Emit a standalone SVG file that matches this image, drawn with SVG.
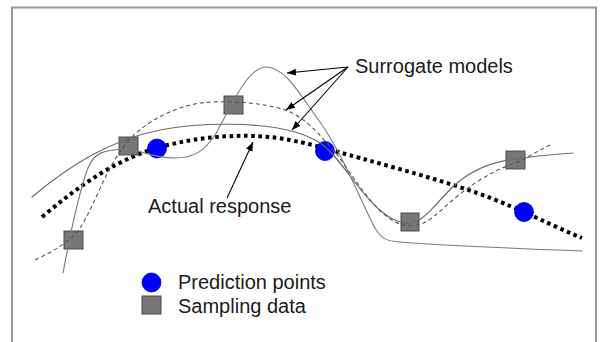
<svg xmlns="http://www.w3.org/2000/svg" width="602" height="342" viewBox="0 0 602 342">
<defs>
<style>
.lbl{font-family:"Liberation Sans",Arial,sans-serif;font-size:20px;fill:#1a1a1a}
.sq{fill:#777;stroke:#4a4a4a;stroke-width:1}
.pt{fill:#0000ff;stroke:#0000c0;stroke-width:0.8}
.cv{fill:none;stroke-linecap:round}
.dot{fill:none;stroke:#000;stroke-width:4;stroke-dasharray:3.6 3.6;stroke-linecap:butt}
.dash{fill:none;stroke:#555;stroke-width:1.1;stroke-dasharray:4 3;stroke-linecap:butt}
.ar{fill:none;stroke:#000;stroke-width:1.1}
</style>
<marker id="ah" markerWidth="10" markerHeight="8" refX="9" refY="3.5" orient="auto" markerUnits="userSpaceOnUse">
<path d="M0,0 L9,3.5 L0,7 z" fill="#000"/>
</marker>
</defs>
<rect width="602" height="342" fill="#fff"/>
<rect x="12" y="7.5" width="584" height="345" fill="none" stroke="#9a9a9a" stroke-width="2"/>

<g id="actual-response">
<path class="dot" d="M42,217 C80,185 115,160 160,147 C200,136 250,132 290,140 C320,146 330,150 360,158 C410,172 470,188 510,206 C540,219 560,229 582,238"/>
</g>

<g id="sampling-data">
<rect class="sq" x="64" y="231" width="19" height="18"/>
<rect class="sq" x="119" y="137" width="19" height="18"/>
<rect class="sq" x="224" y="96" width="19" height="18"/>
<rect class="sq" x="401" y="213" width="18" height="18"/>
<rect class="sq" x="506" y="151" width="19" height="18"/>
</g>

<g id="prediction-points">
<circle class="pt" cx="157" cy="148.5" r="9.5"/>
<circle class="pt" cx="325" cy="151" r="9.5"/>
<circle class="pt" cx="524" cy="212" r="9.5"/>
</g>

<g id="surrogate-models">
<path id="model-wide" class="cv" d="M32,197 C70,165 110,140 160,130 C200,122 260,122 295,132 C315,138 325,145 335,157 C355,180 375,215 400,222 C420,228 430,210 445,195 C465,172 490,162 515,159 C540,155 560,154 573,153" stroke="#6a6a6a" stroke-width="1.2"/>
<path id="model-peak" class="cv" d="M63,273 C70,235 78,195 88,168 C94,152 105,150 125,149 C140,149 150,158 175,158 C195,158 205,150 215,135 C230,110 245,70 265,67 C285,66 300,95 320,122 C345,158 360,200 375,228 C382,240 388,241 400,242 C450,246 530,249 582,251" stroke="#7a7a7a" stroke-width="1.1"/>
<path id="model-dashed" class="dash" d="M35,260 C55,250 70,242 80,228 C95,205 105,170 125,145 C140,125 170,108 200,103 C225,100 260,102 285,110 C305,117 320,135 335,152 C355,178 375,215 400,224 C420,230 430,220 445,207 C465,188 490,172 510,165 C525,160 535,152 550,145"/>
</g>

<g id="connectors">
<line class="ar" x1="348" y1="67" x2="287" y2="73" marker-end="url(#ah)"/>
<line class="ar" x1="348" y1="67" x2="286" y2="110" marker-end="url(#ah)"/>
<line class="ar" x1="348" y1="67" x2="292" y2="130" marker-end="url(#ah)"/>
<line class="ar" x1="227" y1="198" x2="253" y2="142" marker-end="url(#ah)"/>
</g>

<g id="label-surrogate"><text class="lbl" x="355" y="73">Surrogate models</text></g>
<g id="label-actual"><text class="lbl" x="148" y="213">Actual response</text></g>

<g id="legend">
<circle class="pt" cx="151.5" cy="282.5" r="9.5"/>
<text class="lbl" x="178" y="289">Prediction points</text>
<rect class="sq" x="142" y="296" width="19" height="18"/>
<text class="lbl" x="178" y="313">Sampling data</text>
</g>
</svg>
